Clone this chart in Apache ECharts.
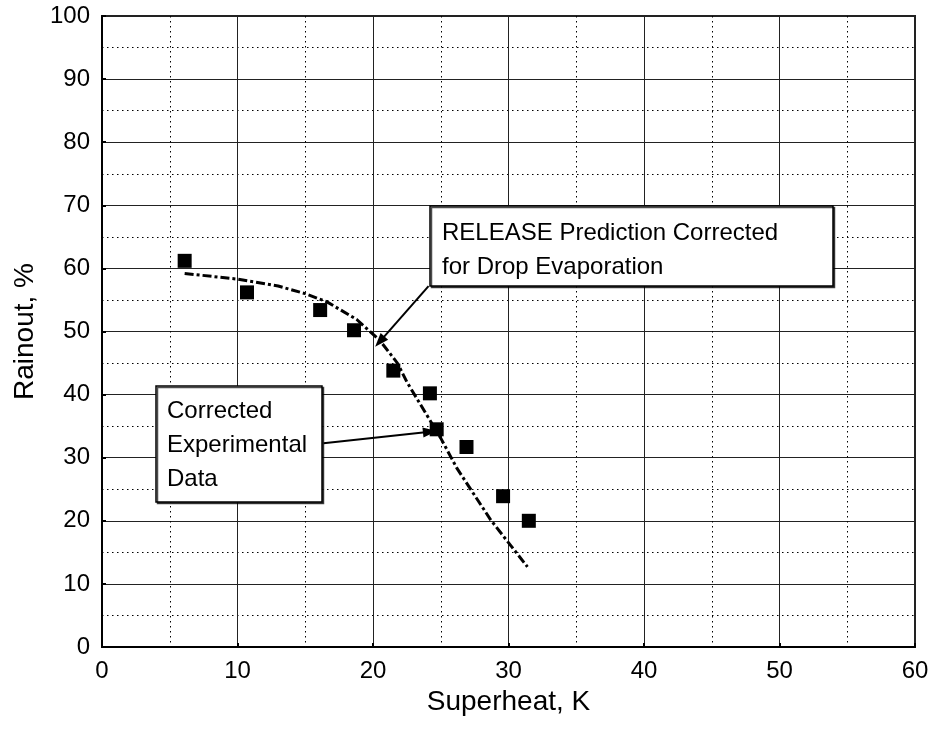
<!DOCTYPE html>
<html><head><meta charset="utf-8">
<script src="https://cdn.jsdelivr.net/npm/echarts@6/dist/echarts.min.js"></script>
<style>html,body{margin:0;padding:0;background:#fff}#c{width:933px;height:736px}</style>
</head><body><div id="c"></div>
<script>
// Corrected experimental data (Superheat K, Rainout %)
const expX = [6.1, 10.7, 16.1, 18.6, 21.5, 24.2, 24.7, 26.9, 29.6, 31.5];
const expY = [61.2, 56.2, 53.4, 50.2, 43.8, 40.2, 34.5, 31.7, 23.9, 20.0];
// RELEASE prediction corrected for drop evaporation
const predX = [6.1, 10.0, 13.0, 15.0, 16.6, 18.8, 20.5, 21.8, 22.5, 25.0, 26.2, 28.7, 31.4];
const predY = [59.2, 58.3, 57.2, 56.0, 54.7, 51.9, 48.6, 45.0, 42.0, 33.1, 28.3, 20.1, 12.7];
// Annotation texts and arrow endpoints (data units)
const note1 = 'RELEASE Prediction Corrected\nfor Drop Evaporation';
const note2 = 'Corrected\nExperimental\nData';
const arrow1 = [[24.1, 57.2], [20.5, 48.4]];
const arrow2 = [[16.35, 32.3], [24.2, 34.1]];

const FONT = '"Liberation Sans", Arial, sans-serif';
const chart = echarts.init(document.getElementById('c'), null, {renderer: 'canvas'});

function axisCommon(name) {
  return {
    type: 'value', name: name, nameLocation: 'middle',
    nameTextStyle: {fontSize: 28, color: '#000', fontFamily: FONT},
    min: 0, interval: 10,
    axisLine: {show: true, onZero: false, lineStyle: {color: '#000', width: 2}},
    axisTick: {show: true, inside: true, length: 4, lineStyle: {color: '#000', width: 2}},
    axisLabel: {fontSize: 24, color: '#000', fontFamily: FONT},
    splitLine: {show: true, lineStyle: {color: '#222', width: 1}},
    minorTick: {show: false, splitNumber: 2},
    minorSplitLine: {show: true, lineStyle: {color: '#000', width: 1, type: [1.5, 3.5]}}
  };
}

const xAxis = Object.assign(axisCommon('Superheat, K'), {max: 60, nameGap: 40});
xAxis.axisLabel.margin = 12;
const yAxis = Object.assign(axisCommon('Rainout, %'), {max: 100, nameGap: 62});
yAxis.axisLabel.margin = 12;

chart.setOption({
  animation: false,
  backgroundColor: '#fff',
  grid: {left: 102, right: 18, top: 16, bottom: 89, show: true, borderColor: '#222', borderWidth: 2, backgroundColor: 'transparent'},
  xAxis: xAxis,
  yAxis: yAxis,
  series: [
    {
      type: 'line', name: 'prediction', data: predX.map((x, i) => [x, predY[i]]),
      showSymbol: false, symbol: 'none', z: 3,
      lineStyle: {color: '#000', width: 3, type: [9, 3, 3, 3]}
    },
    {
      type: 'scatter', name: 'experimental', data: expX.map((x, i) => [x, expY[i]]),
      symbol: 'rect', symbolSize: 14, z: 4,
      itemStyle: {color: '#000', opacity: 1}
    },
    {
      type: 'line', name: 'arrows', data: [], z: 6,
      markLine: {
        silent: true, animation: false,
        symbol: ['none', 'triangle'], symbolSize: [10, 14],
        label: {show: false},
        lineStyle: {color: '#000', width: 2, type: 'solid'},
        data: [
          [{coord: arrow1[0]}, {coord: arrow1[1]}],
          [{coord: arrow2[0]}, {coord: arrow2[1]}]
        ]
      }
    }
  ],
  graphic: [
    {type: 'rect', z: 10, shape: {x: 430, y: 206, width: 403, height: 80},
     style: {fill: '#fff', stroke: '#000', lineWidth: 1.5, shadowColor: 'rgba(0,0,0,0.7)', shadowOffsetX: 1.5, shadowOffsetY: 1.5}},
    {type: 'text', z: 11, x: 442, y: 216,
     style: {text: note1, font: '24px ' + FONT, fill: '#000', lineHeight: 34}},
    {type: 'rect', z: 10, shape: {x: 156, y: 386, width: 166, height: 116},
     style: {fill: '#fff', stroke: '#000', lineWidth: 1.5, shadowColor: 'rgba(0,0,0,0.7)', shadowOffsetX: 1.5, shadowOffsetY: 1.5}},
    {type: 'text', z: 11, x: 167, y: 394,
     style: {text: note2, font: '24px ' + FONT, fill: '#000', lineHeight: 34}}
  ]
});
</script>
</body></html>
